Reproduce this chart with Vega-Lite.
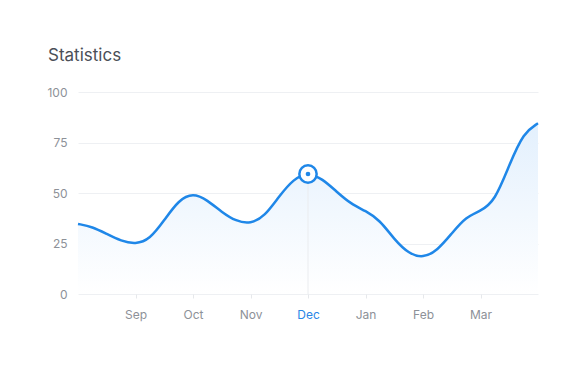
{
  "$schema": "https://vega.github.io/schema/vega-lite/v6.json",
  "width": 460,
  "height": 202,
  "autosize": {"type": "none"},
  "padding": {"left": 78, "top": 92, "right": 48, "bottom": 74},
  "background": "#ffffff",
  "title": {
    "text": "Statistics",
    "anchor": "start",
    "frame": "group",
    "dx": -30,
    "offset": 21,
    "font": "Inter",
    "fontSize": 17,
    "fontWeight": "normal",
    "color": "#4a4f57"
  },
  "data": {
    "values": [
      {"t": 0, "value": 34.7},
      {"t": 0.25, "value": 33.3},
      {"t": 0.5, "value": 29.7},
      {"t": 0.75, "value": 26.2},
      {"t": 1, "value": 24.6},
      {"t": 1.25, "value": 27},
      {"t": 1.5, "value": 36.5},
      {"t": 1.75, "value": 46.5},
      {"t": 2, "value": 50},
      {"t": 2.25, "value": 46.5},
      {"t": 2.5, "value": 40.5},
      {"t": 2.75, "value": 36},
      {"t": 3, "value": 34.7},
      {"t": 3.25, "value": 38.5},
      {"t": 3.5, "value": 48.5},
      {"t": 3.75, "value": 57},
      {"t": 4, "value": 60.3},
      {"t": 4.25, "value": 57},
      {"t": 4.5, "value": 50.6},
      {"t": 4.75, "value": 44.5},
      {"t": 5, "value": 41.2},
      {"t": 5.25, "value": 36.6},
      {"t": 5.5, "value": 27},
      {"t": 5.75, "value": 20},
      {"t": 6, "value": 17.8},
      {"t": 6.25, "value": 21.5},
      {"t": 6.5, "value": 30},
      {"t": 6.75, "value": 38.3},
      {"t": 7, "value": 41},
      {"t": 7.25, "value": 46},
      {"t": 7.5, "value": 63.9},
      {"t": 7.75, "value": 80},
      {"t": 8, "value": 84.5}
    ]
  },
  "encoding": {
    "x": {
      "field": "t",
      "type": "quantitative",
      "scale": {"domain": [0, 8], "nice": false, "zero": false},
      "axis": {
        "title": null,
        "values": [1, 2, 3, 4, 5, 6, 7],
        "domain": false,
        "grid": false,
        "ticks": true,
        "tickSize": 4,
        "tickColor": "#e6e8eb",
        "labelAngle": 0,
        "labelPadding": 11,
        "labelFont": "Inter",
        "labelFontSize": 12,
        "labelColor": {"condition": {"test": "datum.value == 4", "value": "#2a86e6"}, "value": "#8d9198"},
        "labelExpr": "['Aug','Sep','Oct','Nov','Dec','Jan','Feb','Mar','Apr'][datum.value]"
      }
    },
    "y": {
      "field": "value",
      "type": "quantitative",
      "scale": {"domain": [0, 100]},
      "axis": {
        "title": null,
        "values": [0, 25, 50, 75, 100],
        "domain": false,
        "ticks": false,
        "grid": true,
        "gridColor": "#eef0f3",
        "labelPadding": 11,
        "labelFont": "Inter",
        "labelFontSize": 12,
        "labelColor": "#8d9198"
      }
    }
  },
  "layer": [
    {
      "mark": {
        "type": "area",
        "interpolate": "basis",
        "fill": {
          "x1": 0, "y1": 0, "x2": 0, "y2": 1,
          "gradient": "linear",
          "stops": [
            {"offset": 0, "color": "#e3f0fd"},
            {"offset": 1, "color": "#ffffff"}
          ]
        }
      }
    },
    {
      "transform": [{"filter": "datum.t == 4"}],
      "mark": {"type": "rule", "color": "#eaecef", "strokeWidth": 1},
      "encoding": {"y": {"datum": 0}, "y2": {"datum": 59.4}}
    },
    {
      "mark": {"type": "line", "interpolate": "basis", "color": "#1f87e8", "strokeWidth": 2.5}
    },
    {
      "transform": [{"filter": "datum.t == 4"}],
      "mark": {"type": "point", "shape": "circle", "filled": true, "fill": "#ffffff", "stroke": "#1f87e8", "strokeWidth": 2.5, "size": 300, "opacity": 1},
      "encoding": {"y": {"datum": 59.4}}
    },
    {
      "transform": [{"filter": "datum.t == 4"}],
      "mark": {"type": "point", "shape": "circle", "filled": true, "color": "#1f87e8", "size": 22, "opacity": 1},
      "encoding": {"y": {"datum": 59.4}}
    }
  ],
  "config": {"view": {"stroke": null}}
}
